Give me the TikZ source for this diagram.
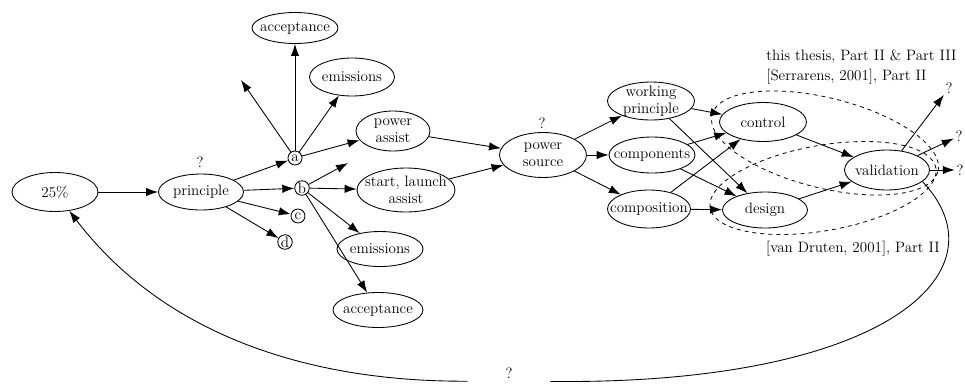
\documentclass[tikz,border=0pt]{standalone}
\usetikzlibrary{shapes.geometric,arrows.meta}
\begin{document}
\begin{tikzpicture}[x=0.75pt,y=-0.75pt, line width=0.65pt,
  >={Latex[length=9pt,width=6.3pt]},
  every node/.style={font=\fontsize{11.3}{13}\selectfont},
  ell/.style={draw, ellipse, inner sep=-30pt, align=center},
  sz/.style 2 args={minimum width=#1*0.75pt, minimum height=#2*0.75pt},
  lett/.style={draw, circle, inner sep=0.3pt, minimum size=10.5pt},
  qm/.style={inner sep=1pt},
  grp/.style={dashed, line width=0.6pt}]
\useasboundingbox (0,0) rectangle (965,383);

% main nodes
\node[ell, sz={86}{39}] (p25) at (55,192) {25\%};
\node[ell, sz={85}{36}] (pr) at (201,192) {principle};
\node[qm] (qpr) at (200,162) {?};
\node[lett] (a) at (295,158) {a};
\node[lett] (b) at (302,188) {b};
\node[lett] (c) at (298,216) {c};
\node[lett] (d) at (285,242) {d};
\node[ell, sz={86}{31}] (acc1) at (295,28) {acceptance};
\node[ell, sz={85}{38}] (em1) at (352,77) {emissions};
\node[ell, sz={74}{40}] (pa) at (393,131) {power\\assist};
\node[ell, sz={98}{44}] (sl) at (406,190) {start, launch\\assist};
\node[ell, sz={86}{35}] (em2) at (380,249) {emissions};
\node[ell, sz={90}{35}] (acc2) at (378,310) {acceptance};
\node[ell, sz={87}{45}] (ps) at (543,155) {power\\source};
\node[qm] (qps) at (542,123) {?};
\node[ell, sz={87}{38}] (wp) at (651,101) {working\\principle};
\node[ell, sz={86}{36}] (co) at (652,155) {components};
\node[ell, sz={83}{38}] (cm) at (649,209) {composition};
\node[ell, sz={87}{39}] (ctl) at (763,122) {control};
\node[ell, sz={85}{36}] (des) at (765,210) {design};
\node[ell, sz={85}{40}] (val) at (887,170) {validation};
\node[qm] (q1) at (949,88) {?};
\node[qm] (q2) at (959,136) {?};
\node[qm] (q3) at (960,170) {?};

\coordinate (fa) at (241,80);
\coordinate (fb) at (348,163);

% texts
\node[align=left, anchor=west, inner sep=0] (tt) at (766,67)
  {this thesis, Part II \& Part III\\[2pt]{}[Serrarens, 2001], Part II};
\node[anchor=east, inner sep=0] (vd) at (940,249) {[van Druten, 2001], Part II};

% edges
\draw[->] (p25) -- (pr);
\draw[->] (pr) -- (a);
\draw[->] (pr) -- (b);
\draw[->] (pr) -- (c);
\draw[->] (pr) -- (d);
\draw[->] (a) -- (fa);
\draw[->] (a) -- (acc1);
\draw[->] (a) -- (em1);
\draw[->] (a) -- (pa);
\draw[->] (b) -- (fb);
\draw[->] (b) -- (sl);
\draw[->] (b) -- (em2);
\draw[->] (b) -- (acc2);
\draw[->] (pa) -- (ps);
\draw[->] (sl) -- (ps);
\draw[->] (ps) -- (wp);
\draw[->] (ps) -- (co);
\draw[->] (ps) -- (cm);
\draw[->] (wp) -- (ctl);
\draw[->] (wp) -- (des);
\draw[->] (co) -- (ctl);
\draw[->] (co) -- (des);
\draw[->] (cm) -- (ctl);
\draw[->] (cm) -- (des);
\draw[->] (ctl) -- (val);
\draw[->] (des) -- (val);
\draw[->] (val) -- (q1);
\draw[->] (val) -- (q2);
\draw[->] (val) -- (q3);

% feedback loop
\node[inner sep=0, minimum width=61.5pt, text height=6pt, text depth=10pt] (qb) at (509,381) {?};
\draw[->] (val.-18) .. controls (1008,272) and (885,385) .. (qb)
          .. controls (300,382) and (160,330) .. (p25);

% dashed groups
\draw[grp, rotate around={-14:(825,143)}] (825,143) ellipse [x radius=87.4pt, y radius=33.8pt];
\draw[grp, rotate around={10:(823,188)}] (823,188) ellipse [x radius=86pt, y radius=32pt];
\end{tikzpicture}
\end{document}
